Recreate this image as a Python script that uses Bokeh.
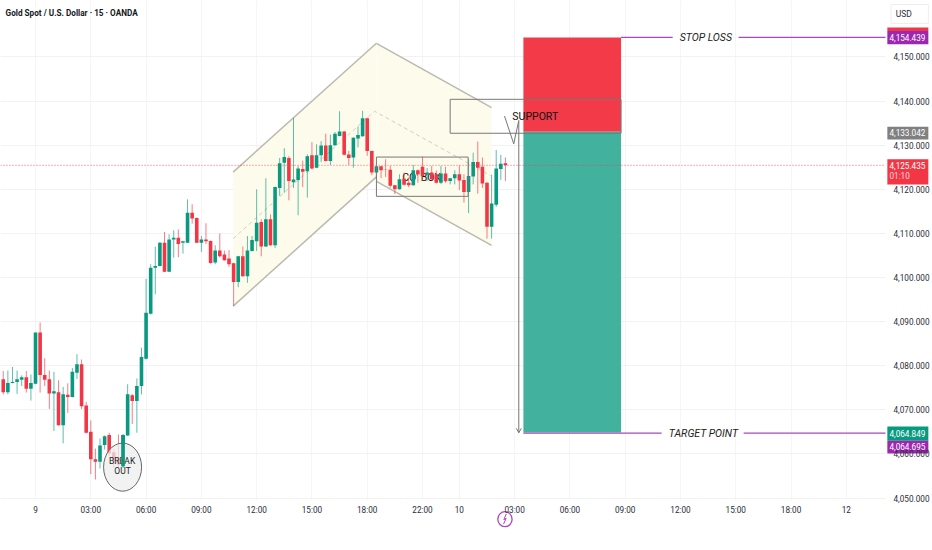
from bokeh.plotting import figure
from bokeh.embed import file_html
from bokeh.resources import INLINE
from bokeh.models import FixedTicker
from bokeh.core.properties import value

first_bar = -7
opens = [4076.9,4074.0,4076.1,4076.3,4076.8,4077.4,4074.8,4075.9,4087.5,4077.9,4076.9,4073.7,4074.0,4066.5,4073.4,4072.9,4078.4,4080.3,4071.0,4065.0,4058.8,4058.2,4062.0,4064.3,4060.4,4059.1,4057.2,4064.2,4073.3,4072.0,4075.4,
 4081.6,4091.8,4102.2,4102.6,4107.9,4101.3,4108.6,4109.0,4107.9,4107.9,4114.7,4113.5,4107.9,4108.6,4108.3,4103.4,4106.1,4105.2,4104.3,4103.2,4099.0,4104.8,4100.3,4106.0,4108.2,4112.6,4107.0,4113.2,4107.3,4120.3,4126.0,4127.1,4121.6,4122.1,4124.6,4124.1,4127.7,4124.9,4127.7,4129.9,4126.4,4130.0,4132.1,4133.1,4127.9,
 4127.2,4131.5,4132.0,4136.1,4128.7,4123.8,4125.2,4124.5,4124.4,4120.9,4120.0,4122.4,4121.5,4120.9,4124.3,4125.1,4123.3,4123.8,4123.4,4121.5,4123.6,4121.9,4122.5,4123.4,4122.1,4119.4,4122.9,4126.2,4125.1,4121.5,4111.5,4116.5,4124.6,4125.9]
highs = [4078.8,4078.9,4079.7,4078.9,4077.8,4078.8,4078.0,4087.5,4089.8,4081.7,4078.9,4078.6,4076.7,4075.2,4076.0,4079.5,4082.6,4081.4,4071.8,4067.6,4061.2,4063.5,4064.2,4064.8,4061.0,4064.4,4064.4,4075.8,4073.6,4077.1,4084.1,
 4099.7,4103.0,4107.0,4108.0,4110.3,4109.8,4110.7,4110.9,4108.3,4117.7,4116.6,4113.6,4109.4,4112.3,4108.4,4107.3,4110.0,4106.1,4106.2,4103.3,4104.9,4107.0,4109.4,4109.4,4120.0,4113.2,4122.5,4114.3,4120.6,4127.1,4129.3,4127.5,4136.2,4125.3,4126.5,4127.9,4130.7,4130.2,4130.9,4132.6,4132.4,4133.0,4137.7,4133.2,4128.7,
 4131.8,4134.2,4137.8,4136.2,4128.8,4125.3,4125.3,4126.8,4125.3,4121.0,4123.4,4123.8,4122.7,4125.5,4124.5,4127.4,4124.8,4125.3,4124.2,4125.3,4125.1,4122.6,4124.3,4125.4,4123.4,4126.8,4128.3,4130.8,4127.2,4121.6,4123.3,4128.9,4127.8,4127.2]
lows = [4073.5,4073.5,4076.0,4073.6,4075.4,4073.9,4072.1,4075.8,4073.9,4075.4,4070.2,4065.2,4066.4,4062.4,4069.3,4072.8,4077.0,4070.2,4064.6,4055.4,4054.2,4056.7,4061.0,4059.5,4056.9,4056.9,4056.9,4064.1,4066.8,4064.8,4073.5,
 4081.4,4091.6,4096.2,4102.5,4101.2,4101.2,4104.5,4104.6,4105.4,4107.8,4112.2,4107.8,4105.8,4107.6,4103.1,4103.0,4104.5,4103.8,4102.4,4093.5,4097.8,4100.2,4098.8,4105.9,4106.0,4104.8,4106.9,4107.2,4106.7,4118.5,4119.2,4117.5,4120.3,4114.1,4120.5,4118.1,4124.5,4124.8,4126.2,4126.3,4125.5,4129.8,4132.0,4127.7,4125.5,
 4124.9,4129.5,4131.9,4127.6,4123.2,4122.3,4122.5,4122.8,4120.4,4118.9,4119.9,4120.8,4120.5,4120.8,4121.5,4121.9,4121.9,4121.9,4121.3,4121.2,4121.5,4121.1,4121.1,4119.8,4117.0,4114.6,4121.1,4119.0,4120.3,4108.8,4108.8,4116.0,4122.1,4121.9]
closes = [4074.0,4076.1,4076.3,4076.9,4077.4,4074.8,4076.1,4087.5,4077.9,4076.8,4073.7,4074.2,4066.5,4073.5,4072.9,4078.6,4080.3,4070.8,4064.8,4058.8,4058.2,4061.9,4064.0,4060.1,4058.4,4057.6,4064.3,4073.5,4072.0,4075.4,4082.0,
 4092.0,4102.2,4102.6,4107.9,4101.3,4108.6,4109.0,4107.6,4108.2,4114.7,4113.4,4107.9,4108.6,4108.2,4103.3,4106.1,4104.8,4103.9,4103.0,4099.0,4104.8,4100.3,4106.1,4108.5,4112.4,4107.0,4113.2,4107.3,4120.5,4125.9,4127.3,4121.9,4122.2,4124.7,4124.0,4127.5,4124.7,4127.7,4129.9,4126.4,4130.0,4132.6,4133.1,4127.8,4127.1,
 4131.7,4132.3,4136.1,4128.7,4123.8,4125.2,4124.3,4124.4,4120.8,4120.0,4122.3,4121.0,4120.9,4124.3,4123.4,4123.0,4123.8,4122.3,4121.5,4123.6,4121.8,4122.5,4123.4,4122.0,4119.4,4123.0,4126.2,4124.9,4121.3,4111.5,4116.8,4124.7,4125.8,4125.435]

time_ticks = [0,12,24,36,48,60,72,84,92,104,116,128,140,152,164,176]
time_labels = ["9","03:00","06:00","09:00","12:00","15:00","18:00","22:00","10","03:00","06:00","09:00","12:00","15:00","18:00","12"]
price_ticks = [4050,4060,4070,4080,4090,4100,4110,4120,4130,4140,4150]
price_labels = ["4,050.000","4,060.000","4,070.000","4,080.000","4,090.000","4,100.000","4,110.000","4,120.000","4,130.000","4,140.000","4,150.000"]

last_price = 4125.435
entry = 4133.042
stop = 4154.439
target = 4064.849
target_alert = 4064.695

# drawings, in bar index / price
channel_up_x = [42.9,74.0,74.0,42.9]
channel_up_y = [4123.9,4153.1,4122.8,4093.5]
channel_down_x = [74.0,99.0,99.0,74.0]
channel_down_y = [4153.1,4138.5,4107.3,4121.8]
mid_x = [42.9,73.6,98.8]
mid_y = [4108.8,4137.7,4123.1]
box_x = [74.0,93.9]
box_y = [4118.4,4127.3]
support_x = [90.0,127.1]
support_y = [4132.7,4140.4]
risk_x = [105.9,127.1]
zig_x = [101.8,103.8,104.9,104.9]
zig_y = [4136.6,4130.3,4135.6,4064.8]
bolt_x = [102.2,101.65,102.15,101.6]
bolt_y = [4046.4,4045.1,4045.4,4044.1]

X0, X1, XR = -7.6, 184.5, 194.7   # left edge, end of the pane, right edge of the picture
Y0, YB, Y1 = 4038.1, 4049.43, 4162.8   # bottom of the picture, bottom of the pane, top

FONT = "Roboto"
GREEN, RED = "#089981", "#f23645"
PURPLE = "#ab47bc"
TAG_PURPLE = "#9c27b0"
SHAPE = "#bcb9ae"

p = figure(width=932, height=550, output_backend="svg", toolbar_location=None,
           x_range=(X0,XR), y_range=(Y0,Y1), y_axis_location="right",
           min_border_left=0, min_border_top=0, min_border_right=0, min_border_bottom=0)
p.outline_line_color = None
p.background_fill_color = "white"
p.border_fill_color = "white"

for ax, t, l in ((p.xaxis[0], time_ticks, time_labels), (p.yaxis[0], price_ticks, price_labels)):
    ax.ticker = FixedTicker(ticks=t)
    ax.major_label_overrides = dict(zip(t, l))
    ax.axis_line_color = None
    ax.major_tick_line_color = None
    ax.minor_tick_line_color = None
    ax.major_tick_out = 0
    ax.major_tick_in = 0
    ax.major_label_text_color = "#2a2e39"
    ax.major_label_text_font = FONT
    ax.major_label_text_font_size = "8.2px"
p.yaxis[0].fixed_location = X1
p.xaxis[0].fixed_location = YB
p.yaxis[0].major_label_standoff = 8
p.xaxis[0].major_label_standoff = 4
p.xgrid.grid_line_color = "#f5f5f5"
p.ygrid.grid_line_color = "#f2f2f2"

# the grid belongs to the pane only: white over the scale strips
p.quad(left=[X1],right=[XR],bottom=[Y0],top=[Y1],fill_color="white",line_color=None)
p.quad(left=[X0],right=[XR],bottom=[Y0],top=[YB],fill_color="white",line_color=None)

# channels
p.patch(channel_up_x, channel_up_y, fill_color="#fdfcec", line_color=None)
p.patch(channel_down_x, channel_down_y, fill_color="#fdfcec", line_color=None)
p.line(channel_up_x[:2], channel_up_y[:2], line_color=SHAPE, line_width=1.5)
p.line(channel_up_x[2:], channel_up_y[2:], line_color=SHAPE, line_width=1.5)
p.line(channel_down_x[:2], channel_down_y[:2], line_color=SHAPE, line_width=1.5)
p.line(channel_down_x[2:], channel_down_y[2:], line_color=SHAPE, line_width=1.5)
p.line(mid_x, mid_y, line_color="#d0cdc2", line_width=1, line_dash="4 3")

# CO' BOX text is partly hidden by the candles
p.text([83.8],[4122.7],text=["CO' BOX"],text_font=value(FONT),text_font_size="10.5px",
       text_align="center",text_baseline="middle",text_color="#111111")

# risk / reward
p.quad(left=[risk_x[0]],right=[risk_x[1]],bottom=[entry],top=[stop],fill_color=RED,fill_alpha=0.98,line_color=None)
p.quad(left=[risk_x[0]],right=[risk_x[1]],bottom=[target],top=[entry],fill_color="#42b29f",line_color=None)

# last price
p.line([X0,X1],[last_price,last_price],line_color=RED,line_width=1,line_dash="1 2",line_alpha=0.8)

# candles
xs = [first_bar+i for i in range(len(opens))]
cols = [GREEN if c>=o else RED for o,c in zip(opens,closes)]
tops = [max(o,c) for o,c in zip(opens,closes)]
bots = [min(o,c) for o,c in zip(opens,closes)]
p.segment(xs,highs,xs,lows,line_color=cols,line_width=1,line_alpha=0.65)
p.vbar(x=xs,top=tops,bottom=bots,width=0.78,fill_color=cols,line_color=None)

# break-out mark; the big green candle stays on top of it
p.ellipse([18.9],[4057.0],width=[8.25],height=[10.9],fill_color="#eeeeee",fill_alpha=0.75,line_color="#666666",line_width=1)
p.text([18.8,18.9],[4058.5,4056.1],text=["BREAK","OUT"],text_font=value(FONT),text_font_size="8.5px",
       text_align="center",text_baseline="middle",text_color="#222222")
k = xs.index(19)
p.segment([xs[k]],[highs[k]],[xs[k]],[lows[k]],line_color=GREEN,line_width=1)
p.vbar(x=[xs[k]],top=[tops[k]],bottom=[bots[k]],width=0.78,fill_color=GREEN,line_color=None)

# boxes and callout
for bx,by in ((box_x,box_y),(support_x,support_y)):
    p.quad(left=[bx[0]],right=[bx[1]],bottom=[by[0]],top=[by[1]],fill_color=None,line_color="#777777",line_width=1)
p.line(zig_x,zig_y,line_color="#777777",line_width=1)
p.line([zig_x[3]-0.55,zig_x[3],zig_x[3]+0.55],[zig_y[3]+1.0,zig_y[3],zig_y[3]+1.0],line_color="#777777",line_width=1)
p.text([103.5],[4136.6],text=["SUPPORT"],text_font=value(FONT),text_font_size="10.5px",
       text_align="left",text_baseline="middle",text_color="#111111")

# SL / TP lines
p.line([risk_x[1],138.3],[stop,stop],line_color=PURPLE,line_width=1.3)
p.line([152.6,X1],[stop,stop],line_color=PURPLE,line_width=1.3)
p.line([risk_x[0],135.9],[target_alert,target_alert],line_color=PURPLE,line_width=1.3)
p.line([153.7,X1],[target_alert,target_alert],line_color=PURPLE,line_width=1.3)
p.text([145.5,145.0],[stop,target_alert],text=["STOP LOSS","TARGET POINT"],text_font=value(FONT),text_font_style="italic",
       text_font_size="10.5px",text_align="center",text_baseline="middle",text_color="#222222")

# title
p.text([-6.5],[4159.9],text=["Gold Spot / U.S. Dollar \u00b7 15 \u00b7 OANDA"],text_font=value(FONT),text_font_style="bold",
       text_font_size="8.2px",text_align="left",text_baseline="middle",text_color="#131722")

# price tags on the scale
TAG_L, TAG_R, TAG_T = 184.9, 193.8, 185.35
def tag(bottom, top, bg):
    p.quad(left=[TAG_L],right=[TAG_R],bottom=[bottom],top=[top],fill_color=bg,line_color=None)
def tag_text(y, text, color="white"):
    p.text([TAG_T],[y],text=[text],text_font=value(FONT),text_font_size="8.2px",text_align="left",
           text_baseline="middle",text_color=color)

tag(4155.9,4156.7,RED)
tag(4152.9,4155.9,TAG_PURPLE)
tag_text(stop,"4,154.439")
tag(4131.3,4134.2,"#808080")
tag_text(4132.8,"4,133.042")
tag(4121.1,4126.8,RED)
tag_text(last_price,"4,125.435")
tag_text(4122.9,"01:10","#ffd6da")
tag(4063.0,4066.2,GREEN)
tag_text(4064.6,"4,064.849")
tag(4060.1,4063.0,TAG_PURPLE)
tag_text(4061.6,"4,064.695")

# currency button
p.quad(left=[185.7],right=[TAG_R],bottom=[4157.6],top=[4161.9],fill_color="white",line_color="#eeeeee",line_width=1)
p.text([186.7],[4159.7],text=["USD"],text_font=value(FONT),text_font_size="8.5px",text_align="left",
       text_baseline="middle",text_color="#2a2e39")

# lightning icon under the time scale
p.ellipse([101.9],[4045.2],width=[3.1],height=[3.4],fill_color=None,line_color=PURPLE,line_width=1.3)
p.line(bolt_x,bolt_y,line_color=PURPLE,line_width=1)

open("out.html","w").write(file_html(p,INLINE))
